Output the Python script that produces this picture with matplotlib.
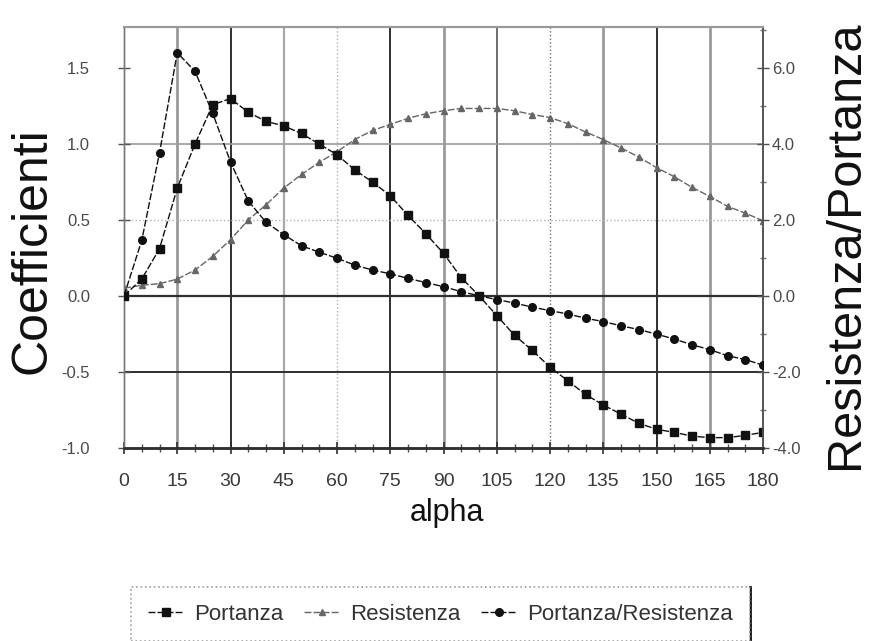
import matplotlib
matplotlib.use("Agg")
import matplotlib.pyplot as plt
from matplotlib.lines import Line2D
import numpy as np

# ---- data ----
alpha = list(range(0, 181, 5))
portanza = [0.00, 0.11, 0.31, 0.71, 1.00, 1.26, 1.30, 1.21, 1.15, 1.12, 1.07, 1.00, 0.93,
            0.83, 0.75, 0.66, 0.53, 0.41, 0.28, 0.12, 0.00, -0.13, -0.26, -0.36, -0.47,
            -0.56, -0.65, -0.72, -0.78, -0.84, -0.88, -0.90, -0.925, -0.935, -0.935, -0.92, -0.90]
resistenza = [0.05, 0.07, 0.08, 0.11, 0.17, 0.26, 0.37, 0.50, 0.60, 0.71, 0.80, 0.88, 0.95,
              1.03, 1.09, 1.13, 1.17, 1.20, 1.22, 1.235, 1.235, 1.235, 1.22, 1.195, 1.175,
              1.135, 1.08, 1.03, 0.975, 0.915, 0.845, 0.785, 0.715, 0.655, 0.59, 0.545, 0.495]
port_res = [0.00, 1.46, 3.77, 6.41, 5.92, 4.81, 3.53, 2.50, 1.94, 1.61, 1.32, 1.15, 0.99,
            0.81, 0.68, 0.58, 0.46, 0.35, 0.24, 0.11, 0.00, -0.10, -0.19, -0.30, -0.39,
            -0.48, -0.59, -0.68, -0.79, -0.89, -1.01, -1.14, -1.29, -1.42, -1.58, -1.68, -1.83]

x_ticks = list(range(0, 181, 15))
left_ticks = [-1.0, -0.5, 0.0, 0.5, 1.0, 1.5]
left_ticklabels = ["-1.0", "-0.5", "0.0", "0.5", "1.0", "1.5"]
right_ticks = [-4.0, -2.0, 0.0, 2.0, 4.0, 6.0]
right_ticklabels = ["-4.0", "-2.0", "0.0", "2.0", "4.0", "6.0"]

TICKFONT = ["Liberation Sans Narrow", "Liberation Sans", "DejaVu Sans"]
LABFONT = ["Liberation Sans", "DejaVu Sans"]

fig = plt.figure(figsize=(8.69, 6.41), dpi=100)
W, H = 869, 641
x0, x1, y0, y1 = 124, 763, 27.3, 447.5
ax = fig.add_axes([x0 / W, 1 - y1 / H, (x1 - x0) / W, (y1 - y0) / H])
ax2 = ax.twinx()

ytop = 1.77
ax.set_xlim(0, 180)
ax.set_ylim(-1.0, ytop)
ax2.set_ylim(-4.0, 4 * ytop)

# grid lines (vertical)
vstyles = [None,
           dict(color="#9a9a9a", lw=2.0, ls="-"),
           dict(color="#303030", lw=1.4, ls="-"),
           dict(color="#a8a8a8", lw=1.6, ls="-"),
           dict(color="#b0b0b0", lw=1.0, ls=":"),
           dict(color="#303030", lw=1.4, ls="-"),
           dict(color="#9a9a9a", lw=2.0, ls="-"),
           dict(color="#555555", lw=1.2, ls="-"),
           dict(color="#707070", lw=1.0, ls=":"),
           dict(color="#9a9a9a", lw=2.0, ls="-"),
           dict(color="#303030", lw=1.4, ls="-"),
           dict(color="#9a9a9a", lw=2.0, ls="-"),
           None]
for xv, st in zip(x_ticks, vstyles):
    if st:
        ax.axvline(xv, zorder=0, **st)

hstyles = {1.0: dict(color="#9a9a9a", lw=1.2, ls="-"),
           0.5: dict(color="#b0b0b0", lw=1.0, ls=":"),
           0.0: dict(color="#303030", lw=1.6, ls="-"),
           -0.5: dict(color="#303030", lw=1.4, ls="-")}
for yv in left_ticks:
    if yv in hstyles:
        ax.axhline(yv, zorder=0, **hstyles[yv])

# data
ls = (0, (5, 1.5))
l1, = ax.plot(alpha, portanza, color="#111111", lw=1.0, ls=ls, marker="s",
              markersize=6, label="Portanza", zorder=4)
l2, = ax.plot(alpha, resistenza, color="#666666", lw=1.0, ls=ls, marker="^",
              markersize=4.5, label="Resistenza", zorder=3)
l3, = ax2.plot(alpha, port_res, color="#111111", lw=1.0, ls=ls, marker="o",
               markersize=5.5, label="Portanza/Resistenza", zorder=4)

# spines
for a in (ax, ax2):
    a.spines["top"].set_color("#9a9a9a")
    a.spines["top"].set_linewidth(1.5)
    a.spines["bottom"].set_color("#303030")
    a.spines["bottom"].set_linewidth(1.8)
    a.spines["left"].set_color("#777777")
    a.spines["left"].set_linewidth(1.0)
    a.spines["right"].set_color("#555555")
    a.spines["right"].set_linewidth(1.2)

ax.set_xticks(x_ticks)
ax.set_xticks(alpha, minor=True)
ax.set_yticks(left_ticks)
ax.set_yticklabels(left_ticklabels)
ax2.set_yticks(right_ticks)
ax2.set_yticklabels(right_ticklabels)
ax2.set_yticks(np.arange(-4.0, 7.01, 1.0), minor=True)

ax.tick_params(axis="x", which="major", direction="inout", length=9, width=1.2,
               color="#303030", pad=14, labelsize=14, labelcolor="#3a3a3a")
ax.tick_params(axis="x", which="minor", direction="inout", length=6, width=1.0,
               color="#505050")
ax.tick_params(axis="y", which="major", direction="inout", length=9, width=1.0,
               color="#505050", pad=20, labelsize=12, labelcolor="#4a4a4a")
ax2.tick_params(axis="y", which="major", direction="inout", length=9, width=1.0,
                color="#505050", pad=2, labelsize=12, labelcolor="#4a4a4a")
ax2.tick_params(axis="y", which="minor", direction="inout", length=5, width=1.0,
                color="#707070")
for lab in ax.get_xticklabels() + ax.get_yticklabels() + ax2.get_yticklabels():
    lab.set_family(TICKFONT)

# labels
fig.text(33 / W, 1 - 251 / H, "Coefficienti", rotation=90, ha="center", va="center",
         fontsize=36, family=LABFONT, color="#111111")
fig.text(846 / W, 1 - 245 / H, "Resistenza/Portanza", rotation=90, ha="center",
         va="center", fontsize=35, family=LABFONT, color="#111111")
fig.text(447 / W, 1 - 513 / H, "alpha", ha="center", va="center", fontsize=22,
         family=LABFONT, color="#111111")

leg = fig.legend(handles=[l1, l2, l3], loc="center", bbox_to_anchor=(440.5 / W, 1 - 614 / H),
                 ncol=3, frameon=True, fancybox=False, handlelength=1.6,
                 handletextpad=0.5, columnspacing=0.9, borderpad=0.75,
                 prop=dict(family=LABFONT, size=16))
fr = leg.get_frame()
fr.set_edgecolor("#888888")
fr.set_linestyle(":")
fr.set_linewidth(1.2)
for t in leg.get_texts():
    t.set_color("#333333")

# thick right edge of the legend box, as in the reference
fig.canvas.draw()
bb = leg.get_frame().get_window_extent().transformed(fig.transFigure.inverted())
fig.add_artist(Line2D([bb.x1, bb.x1], [bb.y0, bb.y1], transform=fig.transFigure,
                      color="#111111", lw=2.0))

fig.savefig("out.png", dpi=100)
